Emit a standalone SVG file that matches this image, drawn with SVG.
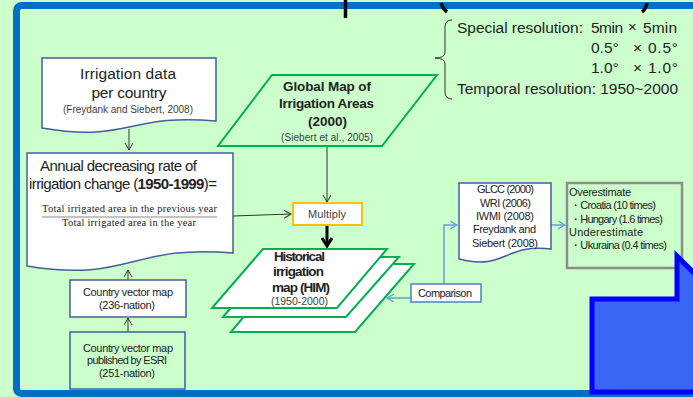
<svg xmlns="http://www.w3.org/2000/svg" width="693" height="397" viewBox="0 0 693 397">
<defs>
<style>
text{font-family:"Liberation Sans",Arial,sans-serif;fill:#222}
.c{text-anchor:middle}
.b{font-weight:bold}
.s{fill:#404040}
.serif{font-family:"Liberation Serif","Times New Roman",serif}
.doc{fill:#fff;stroke:#41609a;stroke-width:1.5}
.green{fill:#ccffcc;stroke:#00b050;stroke-width:2}
.him{fill:#fff;stroke:#00b050;stroke-width:2}
.dk{stroke:#333;stroke-width:1;fill:none}
.bl{stroke:#6a9fd4;stroke-width:1.5;fill:none}
</style>
<marker id="ah" markerWidth="10" markerHeight="10" refX="7" refY="4" orient="auto" markerUnits="userSpaceOnUse">
<path d="M0,0 L7,4 L0,8" fill="none" stroke="#333" stroke-width="1"/>
</marker>
<marker id="ahb" markerWidth="10" markerHeight="10" refX="7" refY="4" orient="auto" markerUnits="userSpaceOnUse">
<path d="M0,0 L7,4 L0,8" fill="none" stroke="#6a9fd4" stroke-width="1.3"/>
</marker>
<marker id="ahk" markerWidth="14" markerHeight="14" refX="9" refY="6" orient="auto" markerUnits="userSpaceOnUse">
<path d="M1,1 L9,6 L1,11" fill="none" stroke="#000" stroke-width="3"/>
</marker>
</defs>
<rect x="0" y="0" width="693" height="397" fill="#ccffcc"/>
<rect x="16.5" y="5.5" width="700" height="388" rx="5" fill="none" stroke="#0070c0" stroke-width="7"/>
<g id="title-fragments" stroke="#000" fill="none" stroke-width="3.5">
<line x1="345.5" y1="0" x2="345.5" y2="18"/>
<path d="M441,3 Q443,9 447,12"/>
<path d="M647,3 Q646,9 642,12"/>
</g>

<g id="connectors">
<line class="dk" x1="129" y1="129" x2="129" y2="150" marker-end="url(#ah)"/>
<line class="dk" x1="233" y1="216" x2="291" y2="214" marker-end="url(#ah)"/>
<line class="dk" x1="327" y1="146" x2="327" y2="202" marker-end="url(#ah)"/>
<line x1="327" y1="226" x2="327" y2="246" stroke="#000" stroke-width="3" marker-end="url(#ahk)"/>
<line class="dk" x1="128" y1="280" x2="128" y2="270" marker-end="url(#ah)" stroke-width="1.5"/>
<line class="dk" x1="128" y1="332" x2="128" y2="318" marker-end="url(#ah)" stroke-width="1.5"/>
<line class="bl" x1="411" y1="298" x2="387" y2="298" marker-end="url(#ahb)"/>
<polyline class="bl" points="444,284 444,225 457,225" marker-end="url(#ahb)"/>
<line class="bl" x1="551" y1="225" x2="565" y2="225" marker-end="url(#ahb)"/>
</g>

<g id="irrigation-data">
<path class="doc" d="M42,58 H216 V121 C129,113 129,143 42,128 Z"/>
<text class="c" x="128" y="79" font-size="15.5" textLength="96">Irrigation data</text>
<text class="c" x="129" y="98" font-size="15.5" textLength="75">per country</text>
<text class="c s" x="128" y="113" font-size="10" textLength="130">(Freydank and Siebert, 2008)</text>
</g>

<g id="annual-rate">
<path class="doc" d="M27,153 H233 V253 C130,244 130,283 27,266 Z"/>
<text x="40" y="171" font-size="15" textLength="157">Annual decreasing rate  of</text>
<text x="29" y="189" font-size="15" textLength="188">irrigation change (<tspan class="b">1950-1999</tspan>)=</text>
<text class="c serif" x="129.5" y="212" font-size="10.5" textLength="175">Total irrigated area in the previous year</text>
<line x1="42" y1="217" x2="217" y2="217" stroke="#888" stroke-width="1"/>
<text class="c serif" x="129" y="226" font-size="10.5" textLength="134">Total irrigated area in the year</text>
</g>

<g id="global-map">
<polygon class="green" points="272,75 437,75 382,146 218,146"/>
<text class="c b" x="327" y="91" font-size="13.5" textLength="88">Global Map of</text>
<text class="c b" x="326.5" y="108" font-size="13.5" textLength="95">Irrigation Areas</text>
<text class="c b" x="327.5" y="126" font-size="13.5" textLength="39">(2000)</text>
<text class="c s" x="327" y="141" font-size="10" textLength="92">(Siebert et al., 2005)</text>
</g>

<g id="multiply">
<rect x="293" y="203" width="69" height="22" fill="#fff" stroke="#ffc000" stroke-width="2"/>
<text class="c s" x="327" y="218" font-size="11" textLength="38">Multiply</text>
</g>

<g id="him">
<polygon class="him" points="288,264 414,264 355,332 231,332"/>
<polygon class="him" points="274,257 399,257 346,317 223,317"/>
<polygon class="him" points="263,249 387,249 337,308 212,308"/>
<text class="c b" x="299.5" y="261" font-size="13.5" textLength="51">Historical</text>
<text class="c b" x="298.5" y="276" font-size="13.5" textLength="51">irrigation</text>
<text class="c b" x="301" y="292" font-size="13.5" textLength="58">map (HIM)</text>
<text class="c s" x="299.5" y="305" font-size="10.5" textLength="57">(1950-2000)</text>
</g>

<g id="comparison">
<rect x="411" y="284" width="70" height="18" fill="#fff" stroke="#4f81bd" stroke-width="1.5"/>
<text class="c" x="445" y="297" font-size="11" textLength="54">Comparison</text>
</g>

<g id="datasets">
<path class="doc" d="M459,183 H551 V249 C505,243 505,271 459,259 Z"/>
<text class="c" x="505.5" y="193" font-size="11" textLength="57">GLCC (2000)</text>
<text class="c" x="505.5" y="207" font-size="11" textLength="51">WRI (2006)</text>
<text class="c" x="505" y="220" font-size="11" textLength="58">IWMI (2008)</text>
<text class="c" x="504.5" y="233" font-size="11" textLength="63">Freydank and</text>
<text class="c" x="505" y="247" font-size="11" textLength="66">Siebert (2008)</text>
</g>

<g id="estimates">
<rect x="567" y="183" width="115" height="85" fill="#ccffcc" stroke="#8c8c8c" stroke-width="2.5"/>
<text x="569" y="196" font-size="11" textLength="62">Overestimate</text>
<text x="570" y="209" font-size="11" textLength="86">・Croatia (10 times)</text>
<text x="570" y="223" font-size="11" textLength="93">・Hungary (1.6 times)</text>
<text x="569" y="236" font-size="11" textLength="74">Underestimate</text>
<text x="570" y="249" font-size="11" textLength="97">・Ukuraina (0.4 times)</text>
</g>

<g id="country-236">
<rect x="70" y="280" width="116" height="37" fill="#fff" stroke="#41609a" stroke-width="1.5"/>
<text class="c" x="128" y="296" font-size="11" textLength="90">Country vector map</text>
<text class="c" x="127" y="309" font-size="11" textLength="56">(236-nation)</text>
</g>

<g id="country-esri">
<rect x="70" y="332" width="115" height="57" fill="#ccffcc" stroke="#41609a" stroke-width="1.5"/>
<text class="c" x="128" y="352" font-size="11" textLength="90">Country vector map</text>
<text class="c" x="127" y="364" font-size="11" textLength="80">published by ESRI</text>
<text class="c" x="127" y="377" font-size="11" textLength="56">(251-nation)</text>
</g>

<g id="resolution">
<path d="M452,20 Q445,20 445,27 V52 Q445,58 435,58 Q445,58 445,64 V92 Q445,99 452,99" fill="none" stroke="#333" stroke-width="1"/>
<text x="457" y="33" font-size="15.5" textLength="126">Special resolution:</text>
<text x="591" y="33" font-size="15.5" textLength="32">5min</text>
<text x="628" y="32" font-size="15">×</text>
<text x="643" y="33" font-size="15.5" textLength="34">5min</text>
<text x="591" y="53" font-size="15.5">0.5°</text>
<text x="633" y="53" font-size="15.5" textLength="45">× 0.5°</text>
<text x="591" y="73" font-size="15.5">1.0°</text>
<text x="633" y="73" font-size="15.5" textLength="45">× 1.0°</text>
<text x="457" y="94" font-size="15.5" textLength="221">Temporal resolution: 1950~2000</text>
</g>

<g id="big-arrow">
<polygon points="677,256 730,309 730,392 592,392 592,299 677,299" fill="#3a66f5" stroke="#0000ff" stroke-width="5" stroke-linejoin="miter"/>
</g>
</svg>
